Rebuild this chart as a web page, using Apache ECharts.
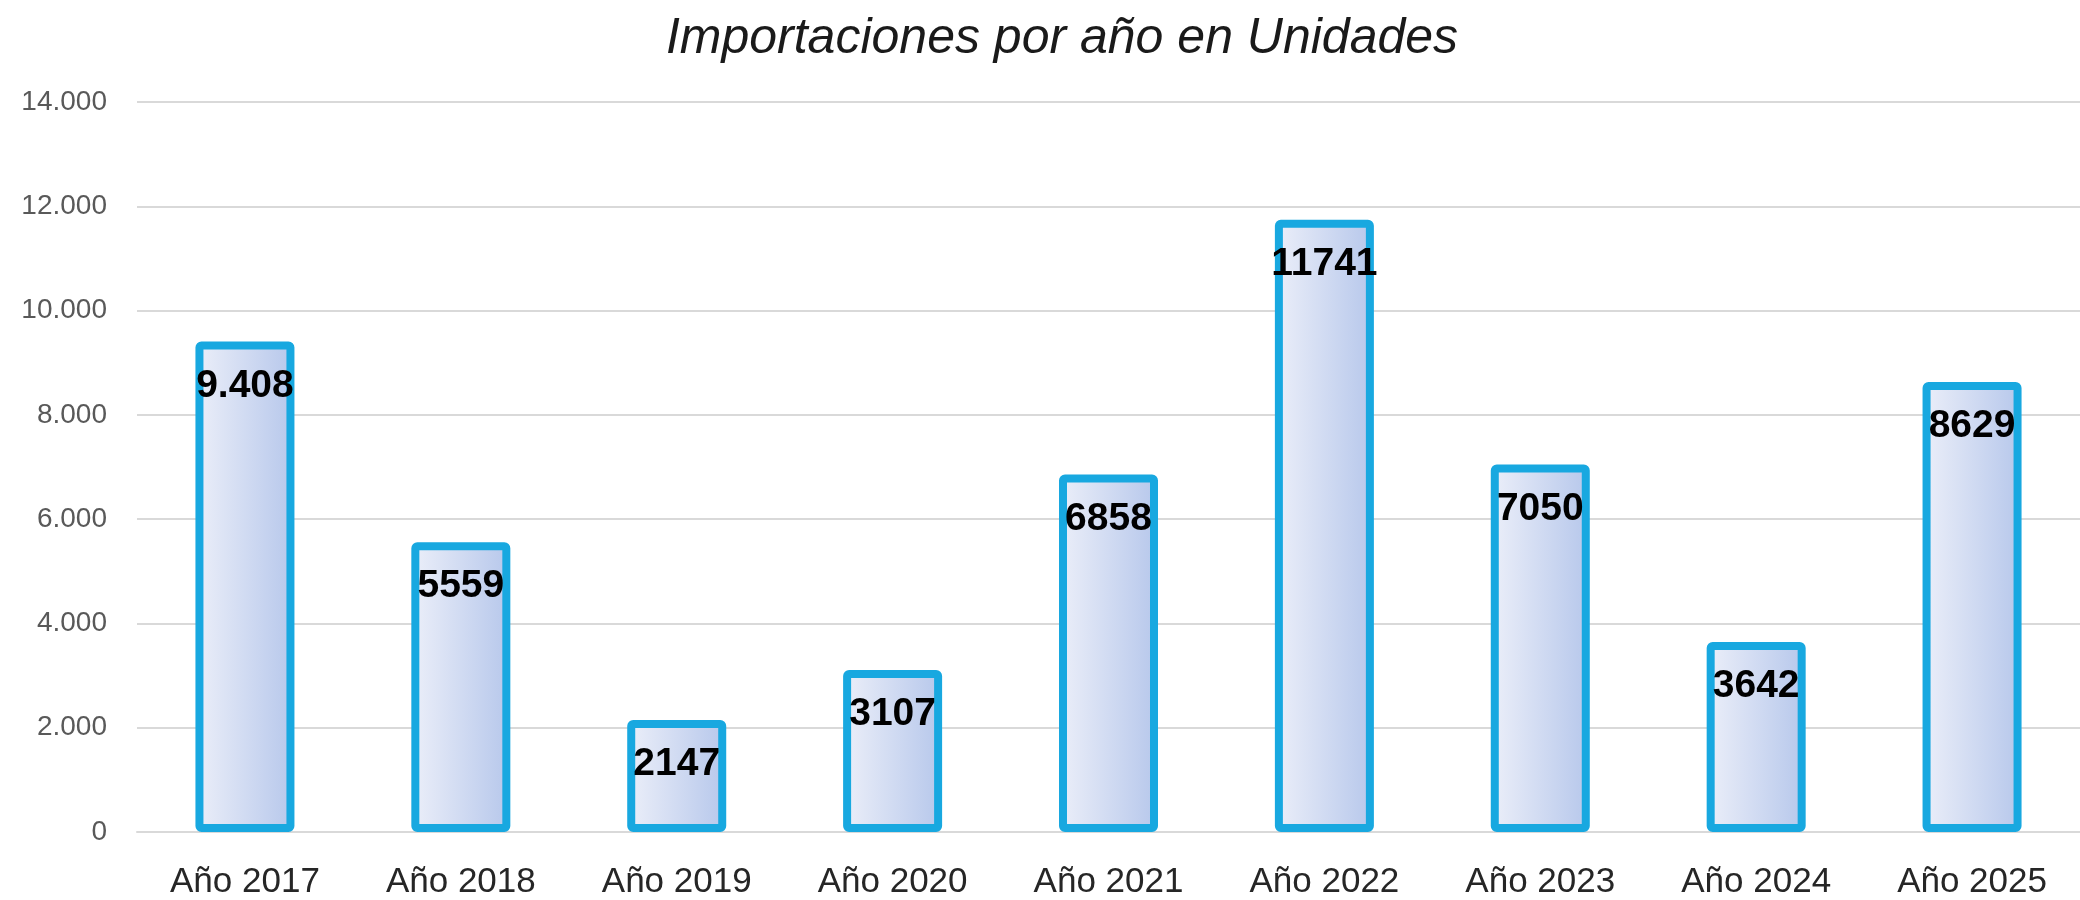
<!DOCTYPE html>
<html lang="es">
<head>
    <meta charset="utf-8"/>
    <title>Importaciones por año</title>
    <script src="https://cdn.jsdelivr.net/npm/echarts@6/dist/echarts.min.js"></script>
    <style>
        html, body { margin: 0; padding: 0; background: #fff; }
        #chart { width: 2080px; height: 900px; }
    </style>
</head>
<body>
<div id="chart"></div>
<script type="text/javascript">
    // categorias del eje x
    const years = [
        'Año 2017', 'Año 2018', 'Año 2019', 'Año 2020', 'Año 2021',
        'Año 2022', 'Año 2023', 'Año 2024', 'Año 2025'
    ];
    // unidades importadas
    const units = [9408, 5559, 2147, 3107, 6858, 11741, 7050, 3642, 8629];
    // etiquetas tal como aparecen sobre las barras
    const barLabels = ['9.408', '5559', '2147', '3107', '6858', '11741', '7050', '3642', '8629'];
    // marcas del eje y
    const yTicks = [0, 2000, 4000, 6000, 8000, 10000, 12000, 14000];

    let chart = echarts.init(document.getElementById('chart'));
    chart.setOption({
        animation: false,
        title: {
            text: 'Importaciones por año en Unidades',
            left: 1057,
            textAlign: 'center',
            top: 9,
            textStyle: {
                fontFamily: 'Liberation Sans',
                fontStyle: 'italic',
                fontWeight: 'normal',
                fontSize: 50,
                color: '#1a1a1a'
            }
        },
        grid: {
            left: 137,
            right: 0,
            top: 102,
            bottom: 68
        },
        xAxis: {
            type: 'category',
            data: years,
            axisLine: { show: true, lineStyle: { color: '#d9d9d9', width: 2 } },
            axisTick: { show: false },
            axisLabel: {
                margin: 33,
                fontFamily: 'Liberation Sans',
                fontSize: 35,
                color: '#262626'
            }
        },
        yAxis: {
            type: 'value',
            min: yTicks[0],
            max: yTicks[yTicks.length - 1],
            interval: yTicks[1] - yTicks[0],
            axisLine: { show: false },
            axisTick: { show: false },
            splitLine: { lineStyle: { color: '#d9d9d9', width: 2 } },
            axisLabel: {
                margin: 30,
                fontFamily: 'Liberation Sans',
                fontSize: 28,
                color: '#595959',
                formatter: function (v) {
                    return v.toLocaleString('de-DE');
                }
            }
        },
        series: [
            {
                type: 'bar',
                data: units,
                barWidth: 99,
                itemStyle: {
                    color: new echarts.graphic.LinearGradient(0, 0, 1, 0, [
                        { offset: 0, color: '#eceff9' },
                        { offset: 1, color: '#b6c7eb' }
                    ]),
                    borderColor: '#18a8e0',
                    borderWidth: 8,
                    borderRadius: 2
                },
                label: {
                    show: true,
                    position: 'insideTop',
                    distance: 25,
                    fontFamily: 'Liberation Sans',
                    fontWeight: 'bold',
                    fontSize: 39,
                    color: '#000',
                    formatter: function (p) {
                        return barLabels[p.dataIndex];
                    }
                }
            }
        ]
    });
</script>
</body>
</html>
